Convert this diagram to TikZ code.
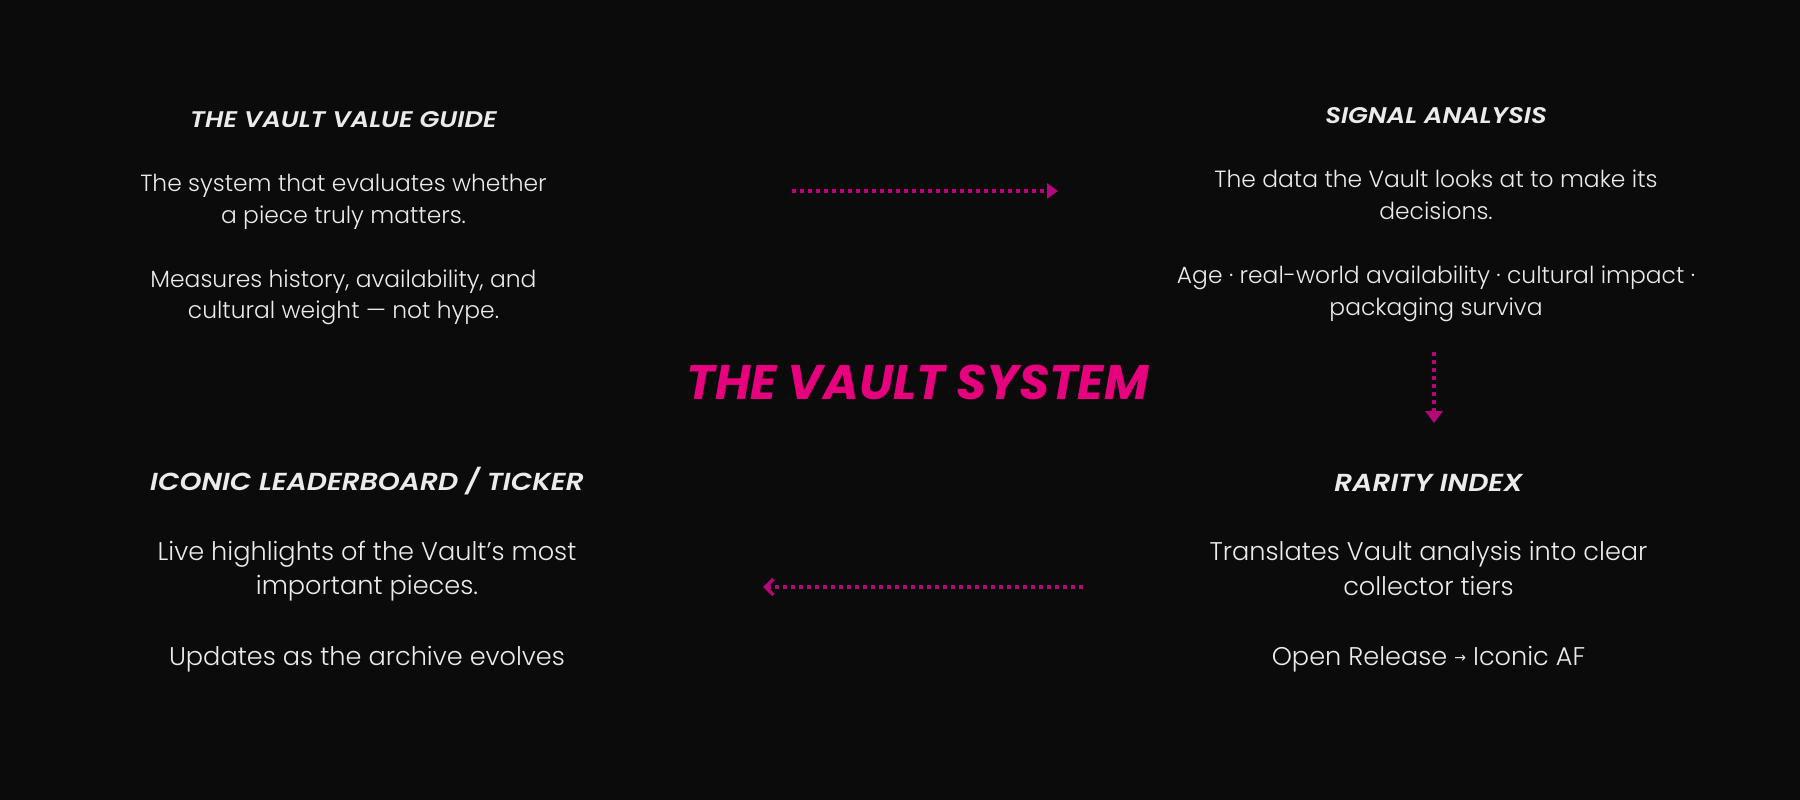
\documentclass[tikz,border=0pt]{standalone}
\usepackage{fontspec}
\setmainfont{Poppins}[UprightFont={* Light}, BoldItalicFont={* Bold Italic}]
\newfontfamily\headfont{Poppins}[UprightFont={* SemiBold Italic}, FakeStretch=1.14]
\newfontfamily\arrowfont{DejaVu Sans}
\usetikzlibrary{arrows.meta}
\definecolor{bg}{HTML}{0B0B0B}
\definecolor{txt}{HTML}{EBEBEB}
\definecolor{pinkT}{HTML}{E6007E}
\definecolor{dotc}{HTML}{B4077A}
\tikzset{
  headT/.style={anchor=base, inner sep=0pt, text=txt, font=\headfont\fontsize{22.6}{22.6}\selectfont},
  bodyT/.style={anchor=base, inner sep=0pt, text=txt, font=\fontsize{23.4}{23.4}\selectfont},
  headB/.style={anchor=base, inner sep=0pt, text=txt, font=\headfont\fontsize{24.6}{24.6}\selectfont},
  bodyB/.style={anchor=base, inner sep=0pt, text=txt, font=\fontsize{25.6}{25.6}\selectfont},
  maintitle/.style={anchor=base, inner sep=0pt, text=pinkT, font=\fontsize{48.5}{48.5}\selectfont\bfseries\itshape},
  dotline/.style={draw=dotc, line width=4pt, dash pattern=on 4pt off 4pt},
}
\begin{document}
\begin{tikzpicture}[x=1pt, y=-1pt]
\fill[bg] (0,0) rectangle (1800,800);
\useasboundingbox (0,0) rectangle (1800,800);

% top left
\node[headT] (tlh) at (343.5,127) {THE VAULT VALUE GUIDE};
\node[bodyT] (tl1) at (343.5,191) {The system that evaluates whether};
\node[bodyT] (tl2) at (343.5,223) {a piece truly matters.};
\node[bodyT] (tl3) at (343.5,287) {Measures history, availability, and};
\node[bodyT] (tl4) at (343.5,318) {cultural weight — not hype.};

% top right
\node[headT] (trh) at (1436,123) {SIGNAL ANALYSIS};
\node[bodyT] (tr1) at (1436,187) {The data the Vault looks at to make its};
\node[bodyT] (tr2) at (1436,219) {decisions.};
\node[bodyT] (tr3) at (1436,283) {Age · real-world availability · cultural impact ·};
\node[bodyT] (tr4) at (1436,315) {packaging surviva};

% center
\node[maintitle] (title) at (917.5,399) {THE VAULT SYSTEM};

% bottom left
\node[headB] (blh) at (367,490) {ICONIC LEADERBOARD / TICKER};
\node[bodyB] (bl1) at (367,560) {Live highlights of the Vault’s most};
\node[bodyB] (bl2) at (367,594) {important pieces.};
\node[bodyB] (bl3) at (367,665) {Updates as the archive evolves};

% bottom right
\node[headB] (brh) at (1428.5,491) {RARITY INDEX};
\node[bodyB] (br1) at (1428.5,560) {Translates Vault analysis into clear};
\node[bodyB] (br2) at (1428.5,595) {collector tiers};
\node[bodyB] (br3) at (1428.5,665) {Open Release \raisebox{2.5pt}{\arrowfont\fontsize{14}{14}\selectfont →} Iconic AF};

% arrows
\coordinate (a1s) at (792,191);
\coordinate (a1e) at (1058,191);
\coordinate (a2s) at (1434,352);
\coordinate (a2e) at (1434,423);
\coordinate (a3s) at (1083,587);
\coordinate (a3e) at (763,587);
\draw[dotline, -{Triangle[length=11pt,width=15pt]}] (a1s) -- (a1e);
\draw[dotline, -{Triangle[length=12pt,width=17pt]}] (a2s) -- (a2e);
\draw[dotline, -{Straight Barb[length=8pt,width=16pt,line width=3.5pt]}] (a3s) -- (a3e);
\end{tikzpicture}
\end{document}
